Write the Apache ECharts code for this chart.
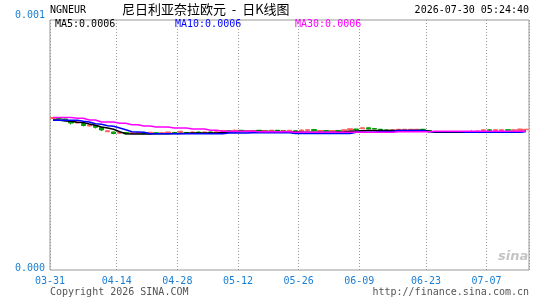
<!DOCTYPE html>
<html>
<head>
  <meta charset="UTF-8">
  <title>NGNEUR 日K线图</title>
  <script src="https://cdn.jsdelivr.net/npm/echarts@6/dist/echarts.min.js"></script>
  <style>
    html, body { margin: 0; padding: 0; background: #fff; }
    #main { width: 545px; height: 300px; }
  </style>
</head>
<body>
<div id="main"></div>
<script>
  // 日期 (类目轴)
  var dates = [
    '03-31','04-01','04-02','04-03','04-05','04-06','04-07','04-08','04-09','04-10','04-13',
    '04-14','04-15','04-16','04-17','04-20','04-21','04-22','04-23','04-24','04-27',
    '04-28','04-29','04-30','05-01','05-04','05-05','05-06','05-07','05-08','05-11',
    '05-12','05-13','05-14','05-15','05-18','05-19','05-20','05-21','05-22','05-25',
    '05-26','05-27','05-28','05-29','06-01','06-02','06-03','06-04','06-05','06-08',
    '06-09','06-10','06-11','06-12','06-14','06-15','06-16','06-17','06-18','06-19','06-22',
    '06-23','06-24','06-25','06-26','06-29','06-30','07-01','07-02','07-03','07-06',
    '07-07','07-08','07-09','07-10','07-13','07-14','07-15'
  ];
  // 显示在横轴上的日期
  var tickDates = ['03-31','04-14','04-28','05-12','05-26','06-09','06-23','07-07'];

  // K线: [开, 收, 低, 高]
  var kData = [
    [0.000606,0.000610,0.000605,0.000611],[0.000608,0.000606,0.000604,0.000609],
    [0.000604,0.000600,0.000598,0.000605],[0.000594,0.000588,0.000582,0.000595],
    [0.000588,0.000592,0.000587,0.000593],[0.000586,0.000578,0.000574,0.000587],
    [0.000576,0.000580,0.000575,0.000581],[0.000578,0.000571,0.000566,0.000579],
    [0.000570,0.000560,0.000556,0.000571],[0.000553,0.000557,0.000552,0.000558],
    [0.000552,0.000546,0.000543,0.000553],[0.000547,0.000551,0.000546,0.000552],
    [0.000550,0.000545,0.000543,0.000551],[0.000546,0.000549,0.000545,0.000550],
    [0.000547,0.000550,0.000546,0.000551],[0.000548,0.000546,0.000545,0.000549],
    [0.000547,0.000551,0.000540,0.000552],[0.000549,0.000547,0.000546,0.000550],
    [0.000547,0.000549,0.000546,0.000550],[0.000548,0.000552,0.000547,0.000553],
    [0.000550,0.000547,0.000546,0.000551],[0.000551,0.000555,0.000550,0.000556],
    [0.000550,0.000548,0.000547,0.000551],[0.000549,0.000552,0.000548,0.000553],
    [0.000552,0.000548,0.000547,0.000553],[0.000549,0.000552,0.000548,0.000553],
    [0.000552,0.000549,0.000548,0.000553],[0.000550,0.000553,0.000549,0.000554],
    [0.000554,0.000558,0.000553,0.000559],[0.000557,0.000555,0.000554,0.000558],
    [0.000555,0.000559,0.000550,0.000562],[0.000559,0.000556,0.000555,0.000560],
    [0.000555,0.000557,0.000554,0.000558],[0.000556,0.000558,0.000555,0.000559],
    [0.000559,0.000556,0.000555,0.000560],[0.000556,0.000558,0.000555,0.000559],
    [0.000557,0.000559,0.000556,0.000560],[0.000559,0.000557,0.000556,0.000560],
    [0.000556,0.000558,0.000555,0.000559],[0.000557,0.000559,0.000556,0.000560],
    [0.000557,0.000555,0.000554,0.000558],[0.000556,0.000560,0.000555,0.000562],
    [0.000558,0.000561,0.000557,0.000562],[0.000562,0.000558,0.000557,0.000563],
    [0.000556,0.000558,0.000555,0.000559],[0.000558,0.000556,0.000555,0.000559],
    [0.000556,0.000558,0.000555,0.000559],[0.000558,0.000556,0.000555,0.000559],
    [0.000557,0.000561,0.000556,0.000562],[0.000560,0.000565,0.000559,0.000566],
    [0.000564,0.000562,0.000556,0.000565],[0.000565,0.000569,0.000564,0.000570],
    [0.000569,0.000564,0.000563,0.000570],[0.000566,0.000564,0.000563,0.000567],
    [0.000563,0.000562,0.000558,0.000564],[0.000560,0.000559,0.000558,0.000561],
    [0.000558,0.000561,0.000557,0.000562],[0.000561,0.000563,0.000560,0.000564],
    [0.000561,0.000563,0.000560,0.000564],[0.000561,0.000563,0.000560,0.000564],
    [0.000561,0.000563,0.000560,0.000564],[0.000563,0.000561,0.000560,0.000564],
    [0.000558,0.000556,0.000550,0.000559],[0.000551,0.000553,0.000550,0.000554],
    [0.000550,0.000553,0.000549,0.000554],[0.000553,0.000551,0.000550,0.000554],
    [0.000551,0.000553,0.000550,0.000554],[0.000553,0.000551,0.000550,0.000554],
    [0.000551,0.000553,0.000550,0.000554],[0.000553,0.000554,0.000552,0.000560],
    [0.000554,0.000556,0.000553,0.000557],[0.000557,0.000561,0.000556,0.000562],
    [0.000561,0.000558,0.000557,0.000562],[0.000558,0.000561,0.000557,0.000562],
    [0.000558,0.000561,0.000557,0.000562],[0.000561,0.000559,0.000558,0.000562],
    [0.000558,0.000561,0.000557,0.000562],[0.000558,0.000564,0.000557,0.000565],
    [0.000561,0.000563,0.000560,0.000564]
  ];

  // 均线
  var ma5 = [
    0.000600,0.000600,0.000596,0.000595,0.000591,0.000590,0.000584,0.000579,0.000572,0.000568,
    0.000563,0.000553,0.000545,0.000544,0.000544,0.000544,0.000544,0.000545,0.000545,0.000545,
    0.000546,0.000546,0.000547,0.000548,0.000548,0.000548,0.000548,0.000548,0.000550,0.000552,
    0.000553,0.000554,0.000554,0.000554,0.000554,0.000554,0.000554,0.000554,0.000554,0.000553,
    0.000552,0.000551,0.000551,0.000551,0.000551,0.000551,0.000551,0.000552,0.000553,0.000555,
    0.000556,0.000557,0.000558,0.000558,0.000558,0.000558,0.000558,0.000558,0.000558,0.000558,
    0.000558,0.000558,0.000555,0.000551,0.000551,0.000551,0.000551,0.000551,0.000551,0.000551,
    0.000551,0.000551,0.000551,0.000551,0.000551,0.000551,0.000551,0.000553,0.000555
  ];
  var ma10 = [
    0.000599,0.000599,0.000599,0.000599,0.000599,0.000595,0.000592,0.000585,0.000583,0.000577,
    0.000575,0.000568,0.000561,0.000553,0.000552,0.000551,0.000545,0.000545,0.000545,0.000545,
    0.000545,0.000545,0.000545,0.000545,0.000545,0.000545,0.000545,0.000545,0.000545,0.000548,
    0.000548,0.000548,0.000548,0.000549,0.000549,0.000549,0.000549,0.000549,0.000549,0.000549,
    0.000546,0.000546,0.000546,0.000546,0.000546,0.000546,0.000546,0.000546,0.000546,0.000546,
    0.000551,0.000551,0.000551,0.000551,0.000554,0.000554,0.000554,0.000558,0.000558,0.000558,
    0.000558,0.000558,0.000553,0.000553,0.000553,0.000553,0.000553,0.000553,0.000551,0.000551,
    0.000551,0.000551,0.000551,0.000551,0.000551,0.000551,0.000551,0.000551,0.000554
  ];
  var ma30 = [
    0.000610,0.000610,0.000610,0.000610,0.000607,0.000607,0.000600,0.000600,0.000592,0.000592,
    0.000592,0.000587,0.000587,0.000581,0.000581,0.000576,0.000576,0.000572,0.000572,0.000572,
    0.000568,0.000568,0.000568,0.000564,0.000564,0.000564,0.000559,0.000559,0.000555,0.000555,
    0.000555,0.000555,0.000555,0.000555,0.000553,0.000553,0.000553,0.000553,0.000553,0.000553,
    0.000551,0.000551,0.000551,0.000551,0.000551,0.000551,0.000551,0.000551,0.000551,0.000551,
    0.000551,0.000551,0.000551,0.000551,0.000551,0.000551,0.000551,0.000553,0.000553,0.000553,
    0.000553,0.000553,0.000553,0.000555,0.000555,0.000555,0.000555,0.000555,0.000555,0.000555,
    0.000555,0.000555,0.000555,0.000555,0.000555,0.000555,0.000555,0.000555,0.000555
  ];

  var mono = 'DejaVu Sans Mono';
  var axisBlue = '#1a7fd4';

  function showTick(index, value) {
    return tickDates.indexOf(value) >= 0;
  }
  function last(arr) {
    return arr[arr.length - 1].toFixed(4);
  }

  var myChart = echarts.init(document.getElementById('main'));

  var option = {
    animation: false,
    backgroundColor: '#fff',
    grid: {
      left: 50, right: 16, top: 20, bottom: 30,
      show: true, borderColor: '#999', borderWidth: 1
    },
    xAxis: {
      type: 'category',
      data: dates,
      boundaryGap: true,
      axisLine: { show: false },
      axisTick: { show: false },
      axisLabel: {
        interval: showTick,
        margin: 6,
        formatter: function (v) { return '{a|' + v + '}'; },
        rich: {
          a: { color: axisBlue, fontFamily: mono, fontSize: 10, padding: [0, 6, 0, 0] }
        }
      },
      splitLine: {
        show: true,
        interval: showTick,
        lineStyle: { color: '#999', type: [1, 2], width: 1 }
      }
    },
    yAxis: {
      type: 'value',
      min: 0,
      max: 0.001,
      interval: 0.001,
      axisLine: { show: false },
      axisTick: { show: false },
      splitLine: { show: false },
      axisLabel: {
        margin: 5,
        formatter: function (v) {
          return v > 0 ? '{t|' + v.toFixed(3) + '}' : '{b|' + v.toFixed(3) + '}';
        },
        rich: {
          t: { color: axisBlue, fontFamily: mono, fontSize: 10, padding: [0, 0, 9, 0] },
          b: { color: axisBlue, fontFamily: mono, fontSize: 10, padding: [0, 0, 3, 0] }
        }
      }
    },
    series: [
      {
        name: 'K',
        type: 'candlestick',
        data: kData,
        barWidth: 5,
        itemStyle: {
          color: '#ff5f5f',
          color0: '#00a000',
          borderColor: '#ff5f5f',
          borderColor0: '#00a000',
          borderWidth: 1
        }
      },
      {
        name: 'MA5', type: 'line', data: ma5, symbol: 'none',
        lineStyle: { color: '#000', width: 1.5 }
      },
      {
        name: 'MA10', type: 'line', data: ma10, symbol: 'none',
        lineStyle: { color: '#0000ff', width: 1.5 }
      },
      {
        name: 'MA30', type: 'line', data: ma30, symbol: 'none',
        lineStyle: { color: '#ff00ff', width: 1.5 }
      }
    ],
    graphic: [
      { type: 'text', left: 50, top: 5, style: { text: 'NGNEUR', fill: '#000', font: '10px ' + mono } },
      { type: 'text', left: 122, top: 3, style: { text: '尼日利亚奈拉欧元  -  日K线图', fill: '#000', font: '13px "Noto Sans CJK SC"' } },
      { type: 'text', right: 16, top: 5, style: { text: '2026-07-30 05:24:40', fill: '#000', font: '10px ' + mono } },
      { type: 'text', left: 55, top: 19, style: { text: 'MA5:' + last(ma5), fill: '#000', font: '10px ' + mono } },
      { type: 'text', left: 175, top: 19, style: { text: 'MA10:' + last(ma10), fill: '#0000ff', font: '10px ' + mono } },
      { type: 'text', left: 295, top: 19, style: { text: 'MA30:' + last(ma30), fill: '#ff00ff', font: '10px ' + mono } },
      { type: 'text', left: 498, top: 250, style: { text: 'sina', fill: '#c4c4c4', font: 'italic bold 13px "DejaVu Sans"' } },
      { type: 'text', left: 50, top: 287, style: { text: 'Copyright 2026 SINA.COM', fill: '#555', font: '10px ' + mono } },
      { type: 'text', right: 16, top: 287, style: { text: 'http://finance.sina.com.cn', fill: '#555', font: '10px ' + mono } }
    ]
  };

  myChart.setOption(option);
</script>
</body>
</html>
